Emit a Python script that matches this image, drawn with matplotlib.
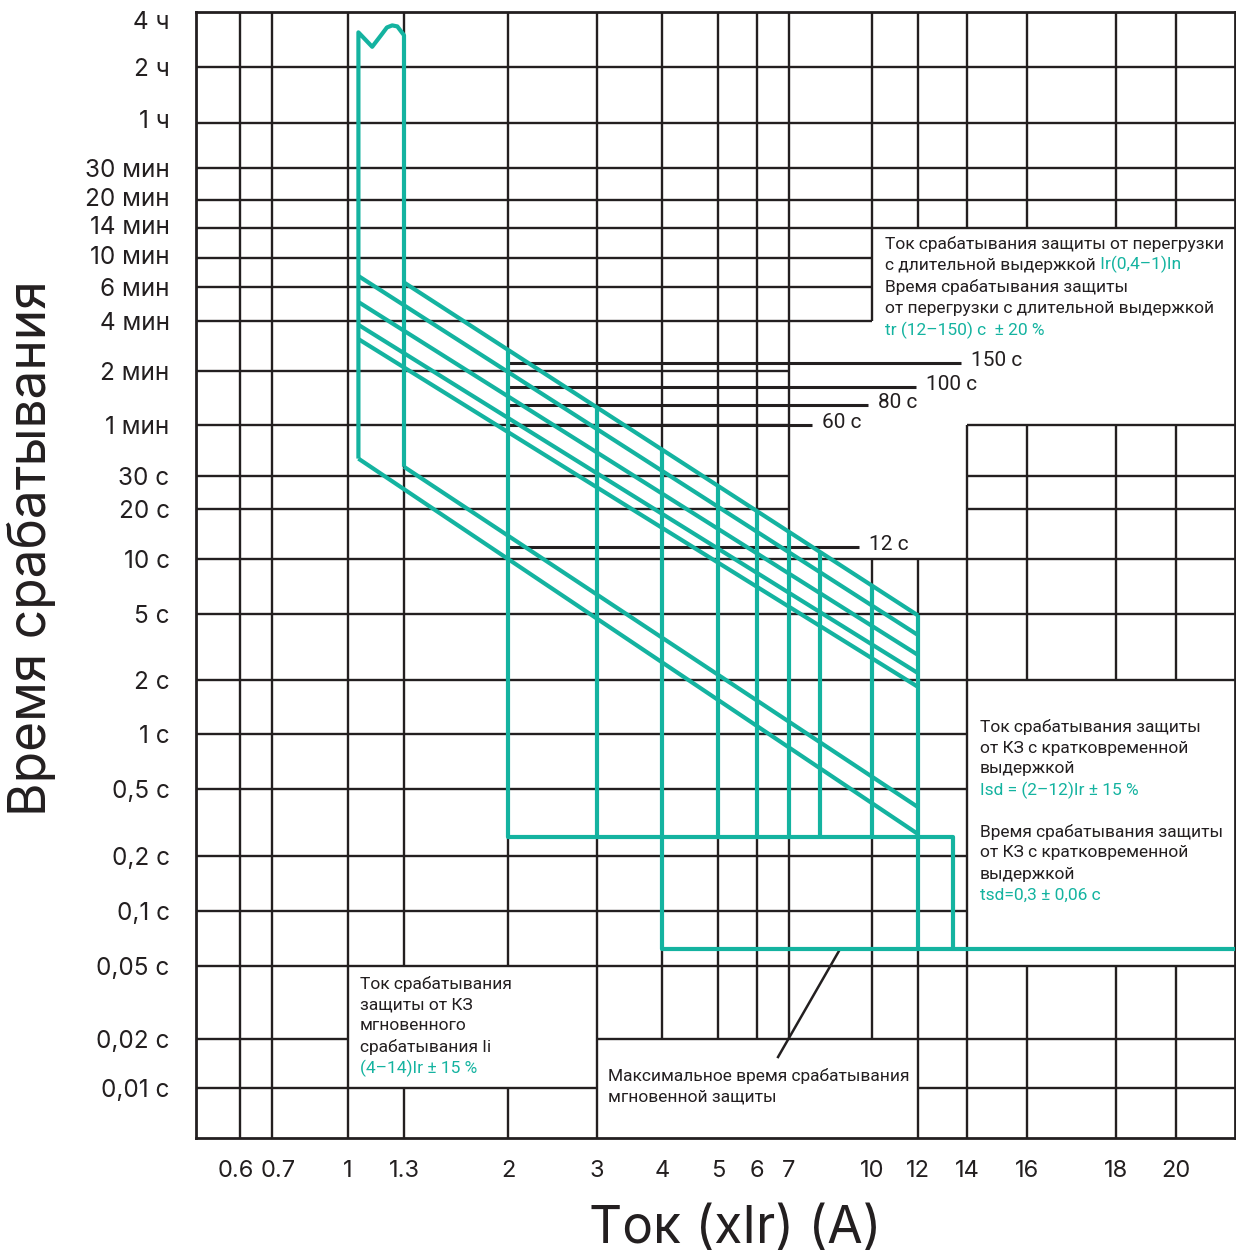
import numpy as np
import matplotlib
matplotlib.use('Agg')
import matplotlib.pyplot as plt
from matplotlib.ticker import NullLocator
from matplotlib.transforms import ScaledTranslation

TEAL = '#14b3a0'
INK = '#231f20'
W, H = 1236, 1259

# оси
x_ticks = [0.6, 0.7, 1, 1.3, 2, 3, 4, 5, 6, 7, 10, 12, 14, 16, 18, 20]
x_labels = ['0.6', '0.7', '1', '1.3', '2', '3', '4', '5', '6', '7',
            '10', '12', '14', '16', '18', '20']
y_ticks = [14400, 7200, 3600, 1800, 1200, 840, 600, 360, 240, 120, 60,
           30, 20, 10, 5, 2, 1, 0.5, 0.2, 0.1, 0.05, 0.02, 0.01]
y_labels = ['4 ч', '2 ч', '1 ч', '30 мин', '20 мин', '14 мин', '10 мин',
            '6 мин', '4 мин', '2 мин', '1 мин', '30 с', '20 с', '10 с',
            '5 с', '2 с', '1 с', '0,5 с', '0,2 с', '0,1 с', '0,05 с',
            '0,02 с', '0,01 с']
x_min, x_max = 0.5, 24
t_min, t_max = 0.005, 16200

# шкала нарисована от руки, поэтому задаём её по опорным точкам
xs_val = [0.5, 0.6, 0.7, 1, 1.3, 2, 3, 4, 5, 6, 7, 10, 12, 14, 16, 18, 20, 24]
xs_px = [196, 240, 272, 348, 404, 508, 597, 662, 718, 757, 789, 872, 918,
         967, 1027, 1116, 1176, 1235]
ys_val = [0.005, 0.01, 0.02, 0.05, 0.1, 0.2, 0.5, 1, 2, 5, 10, 12, 20, 30,
          60, 80, 100, 120, 150, 240, 360, 600, 840, 1200, 1800, 3600,
          7200, 14400, 16200]
ys_px = [1138, 1088, 1039, 966, 911, 856, 789, 734, 680, 614, 559, 547,
         509, 476, 425, 405, 387, 371, 363, 321, 287, 258, 228, 200, 168,
         123, 67, 20, 12]

# защита от перегрузки (длительная выдержка)
ir_min, ir_max = 1.05, 1.3
wave_x = [1.05, 1.12, 1.17, 1.2, 1.23, 1.26, 1.3]
wave_t = [12000, 9700, 11600, 12900, 13300, 13100, 11500]
ir_min_bottom, ir_max_bottom = 38, 34

band_x0 = [1.3, 1.05, 1.05, 1.05, 1.05]
band_t0 = [390, 437, 301, 230, 196]
band_x1 = 12
band_t1 = [4.9, 3.73, 2.83, 2.20, 1.83]

lower_x0 = [1.05, 1.3]
lower_t0 = [38, 34]
lower_t1 = [0.27, 0.39]

# кратковременная выдержка
isd = [2, 3, 4, 5, 6, 7, 8, 10, 12]
isd_top = [175, 78, 43.2, 26.7, 19.5, 14.8, 11.2, 7.19, 4.9]
tsd = 0.26
tsd_end = 13.4

# мгновенная защита
ii_x0 = 4
ii_t = 0.062
long_drop = [4, 12]

# выноски tr
mark_t = [150, 100, 80, 60, 12]
mark_lbl = ['150 с', '100 с', '80 с', '60 с', '12 с']
mark_x0 = 2
mark_x1 = [13.74, 11.9, 9.83, 7.73, 9.46]

# сетка с разрывами под надписи
h_grid = [
    (7200, [(x_min, x_max)]), (3600, [(x_min, x_max)]),
    (1800, [(x_min, x_max)]), (1200, [(x_min, x_max)]),
    (840, [(x_min, x_max)]),
    (600, [(x_min, 10)]), (360, [(x_min, 10)]), (240, [(x_min, 10)]),
    (120, [(x_min, 7)]),
    (60, [(x_min, 7), (14, x_max)]),
    (30, [(x_min, 7), (14, x_max)]), (20, [(x_min, 7), (14, x_max)]),
    (10, [(x_min, x_max)]), (5, [(x_min, x_max)]), (2, [(x_min, x_max)]),
    (1, [(x_min, 14)]), (0.5, [(x_min, 14)]), (0.2, [(x_min, 14)]),
    (0.1, [(x_min, 14)]),
    (0.05, [(x_min, x_max)]),
    (0.02, [(x_min, 1), (3, x_max)]),
    (0.01, [(x_min, 3), (12, x_max)]),
]
v_grid = [
    (0.6, [(t_min, t_max)]), (0.7, [(t_min, t_max)]), (1, [(t_min, t_max)]),
    (1.3, [(t_min, 0.01), (0.05, t_max)]), (2, [(t_min, 0.01), (0.05, t_max)]),
    (3, [(t_min, t_max)]),
    (4, [(0.02, t_max)]), (5, [(0.02, t_max)]), (6, [(0.02, t_max)]),
    (7, [(0.02, t_max)]),
    (10, [(0.02, 10), (240, t_max)]),
    (12, [(t_min, 10), (840, t_max)]),
    (14, [(t_min, 60), (840, t_max)]),
    (16, [(t_min, 0.05), (2, 60), (840, t_max)]),
    (18, [(t_min, 0.05), (2, 60), (840, t_max)]),
    (20, [(t_min, 0.05), (2, 60), (840, t_max)]),
]


def fx(v):
    v = np.clip(np.asarray(v, float), 1e-9, None)
    return np.interp(np.log10(v), np.log10(xs_val), xs_px)


def fx_inv(p):
    return 10 ** np.interp(p, xs_px, np.log10(xs_val))


def fy(v):
    v = np.clip(np.asarray(v, float), 1e-9, None)
    return np.interp(np.log10(v), np.log10(ys_val), -np.array(ys_px, float))


def fy_inv(p):
    return 10 ** np.interp(p, -np.array(ys_px, float), np.log10(ys_val))


def fig_xy(px, py):
    return px / W, 1 - py / H


fig = plt.figure(figsize=(W / 100, H / 100), dpi=100)
ax = fig.add_axes([196 / W, 1 - 1138 / H, (1235 - 196) / W, (1138 - 12) / H])
ax.set_xscale('function', functions=(fx, fx_inv))
ax.set_yscale('function', functions=(fy, fy_inv))
ax.set_xlim(x_min, x_max)
ax.set_ylim(t_min, t_max)

for t, spans in h_grid:
    for a, b in spans:
        ax.plot([a, b], [t, t], color=INK, lw=1.7, zorder=1, solid_capstyle='butt')
for x, spans in v_grid:
    for a, b in spans:
        ax.plot([x, x], [a, b], color=INK, lw=1.7, zorder=1, solid_capstyle='butt')

# выноски
for t, lbl, x1 in zip(mark_t, mark_lbl, mark_x1):
    ax.plot([mark_x0, x1], [t, t], color=INK, lw=2.2, zorder=2, solid_capstyle='butt')
    ax.annotate(lbl, xy=(x1, t), xytext=(7, 1.5), textcoords='offset points',
                ha='left', va='center', fontsize=15, color=INK,
                family='Roboto', zorder=4)

kw = dict(color=TEAL, lw=3, zorder=3, solid_joinstyle='round',
          solid_capstyle='butt')

# Ir: две вертикали и волна сверху
ax.plot([ir_min, ir_min] + wave_x + [ir_max, ir_max],
        [ir_min_bottom, wave_t[0]] + wave_t + [wave_t[-1], ir_max_bottom], **kw)

for x0, t0, t1 in zip(band_x0, band_t0, band_t1):
    ax.plot([x0, band_x1], [t0, t1], **kw)
for x0, t0, t1 in zip(lower_x0, lower_t0, lower_t1):
    ax.plot([x0, band_x1], [t0, t1], **kw)

for x, top in zip(isd, isd_top):
    if x == isd[0]:
        ax.plot([x, x, tsd_end, tsd_end], [top, tsd, tsd, ii_t], **kw)
    elif x == ii_x0:
        ax.plot([x, x, x_max], [top, ii_t, ii_t], **kw)
    elif x in long_drop:
        ax.plot([x, x], [top, ii_t], **kw)
    else:
        ax.plot([x, x], [top, tsd], **kw)

# выноска к мгновенной защите
ax.plot([6.64, 8.72], [0.0155, ii_t], color=INK, lw=1.8, zorder=2)

ax.set_xticks(x_ticks)
ax.set_xticklabels(x_labels)
ax.set_yticks(y_ticks)
ax.set_yticklabels(y_labels)
ax.xaxis.set_minor_locator(NullLocator())
ax.yaxis.set_minor_locator(NullLocator())
ax.tick_params(axis='both', length=0, labelcolor=INK)
ax.tick_params(axis='x', pad=16, labelsize=17)
ax.tick_params(axis='y', pad=19, labelsize=17.5)
for lab in ax.get_xticklabels() + ax.get_yticklabels():
    lab.set_family('Inter')
xl = ax.get_xticklabels()
xl[0].set_transform(xl[0].get_transform() + ScaledTranslation(-0.04, 0, fig.dpi_scale_trans))
xl[1].set_transform(xl[1].get_transform() + ScaledTranslation(0.06, 0, fig.dpi_scale_trans))
# в оригинале часть подписей чуть выше линий сетки
yl = ax.get_yticklabels()
for i in [2, 4, 5, 6]:
    yl[i].set_transform(yl[i].get_transform() + ScaledTranslation(0, 0.035, fig.dpi_scale_trans))

for s in ax.spines.values():
    s.set_color(INK)
    s.set_linewidth(2)

fig.text(*fig_xy(32, 548), 'Время срабатывания', rotation=90, ha='center',
         va='center', fontsize=37, color=INK, family='Inter')
fig.text(*fig_xy(735, 1230), 'Ток (xIr) (А)', ha='center', va='center',
         fontsize=37, color=INK, family='Inter')


def note(px, py, parts, step=21):
    # каждая строка: список (текст, цвет)
    for i, line in enumerate(parts):
        prev = None
        for s, c in line:
            if prev is None:
                prev = fig.text(*fig_xy(px, py + i * step), s, ha='left',
                                va='center', fontsize=12.5, color=c,
                                family='Roboto', zorder=5)
            else:
                prev = ax.annotate(s, xy=(1, 0), xycoords=prev, ha='left',
                                   va='bottom', fontsize=12.5, color=c,
                                   family='Roboto', zorder=5)


note(885, 244, [
    [('Ток срабатывания защиты от перегрузки', INK)],
    [('с длительной выдержкой', INK), (' Ir(0,4–1)In', TEAL)],
    [('Время срабатывания защиты', INK)],
    [('от перегрузки с длительной выдержкой', INK)],
    [('tr (12–150) с  ± 20 %', TEAL)],
], step=21.5)

note(980, 727, [
    [('Ток срабатывания защиты', INK)],
    [('от КЗ с кратковременной', INK)],
    [('выдержкой', INK)],
    [('Isd = (2–12)Ir ± 15 %', TEAL)],
    [(' ', INK)],
    [('Время срабатывания защиты', INK)],
    [('от КЗ с кратковременной', INK)],
    [('выдержкой', INK)],
    [('tsd=0,3 ± 0,06 с', TEAL)],
])

note(360, 984, [
    [('Ток срабатывания', INK)],
    [('защиты от КЗ', INK)],
    [('мгновенного', INK)],
    [('срабатывания Ii', INK)],
    [('(4–14)Ir ± 15 %', TEAL)],
])

note(608, 1076, [
    [('Максимальное время срабатывания', INK)],
    [('мгновенной защиты', INK)],
])

fig.savefig('out.png', dpi=100)
